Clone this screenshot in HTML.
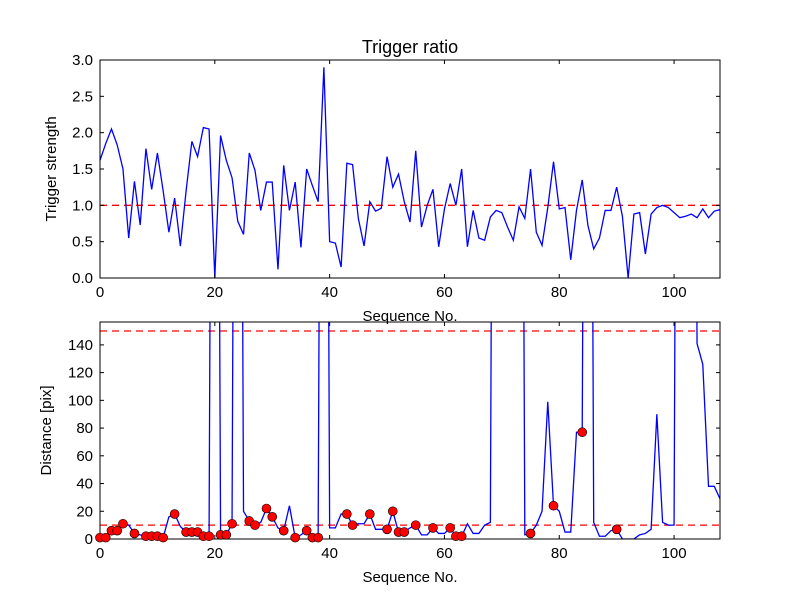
<!DOCTYPE html>
<html><head><meta charset="utf-8"><style>
body{margin:0;background:#fff;}
svg text{font-family:"Liberation Sans","DejaVu Sans",sans-serif;fill:#000;}
</style></head><body>
<svg id="chart" width="800" height="600" viewBox="0 0 800 600" xmlns="http://www.w3.org/2000/svg">
<rect width="800" height="600" fill="#fff"/>
<defs>
<clipPath id="c1"><rect x="100" y="60" width="620" height="218"/></clipPath>
<clipPath id="c2"><rect x="100" y="322" width="620" height="217"/></clipPath>
</defs>
<g id="g1"></g><g id="g2"></g>
</svg>
<script>
const strength=[1.62,1.85,2.05,1.83,1.5,0.55,1.33,0.73,1.78,1.22,1.72,1.2,0.63,1.1,0.44,1.2,1.88,1.67,2.07,2.05,0.0,1.96,1.62,1.38,0.78,0.6,1.72,1.48,0.93,1.32,1.32,0.12,1.55,0.93,1.32,0.42,1.5,1.27,1.05,2.9,0.5,0.48,0.15,1.58,1.56,0.82,0.44,1.05,0.92,0.96,1.67,1.25,1.43,1.05,0.77,1.75,0.7,1.0,1.22,0.43,0.95,1.3,1.0,1.5,0.43,0.93,0.55,0.52,0.84,0.93,0.9,0.7,0.52,0.98,0.82,1.5,0.63,0.45,0.97,1.6,0.95,0.97,0.25,0.93,1.35,0.72,0.4,0.55,0.93,0.93,1.25,0.85,0.0,0.88,0.9,0.33,0.88,0.97,1.0,0.97,0.9,0.83,0.85,0.88,0.83,0.95,0.83,0.92,0.94];
const distance=[1,1,6,6,11,10,4,3,2,2,2,1,16,18,9,5,5,5,2,2,1000,3,3,11,1000,20,13,10,12,22,16,8,6,24,1,3,6,1,1,1000,8,8,18,18,10,11,11,18,7,7,7,20,5,5,8,10,3,3,8,4,4,8,2,2,11,4,4,10,12,1000,1000,1000,1000,1000,3,4,10,20,99,24,20,5,5,77,77,1000,12,2,2,6,7,0,0,0,3,4,7,90,12,10,10,1000,1000,1000,141,126,38,38,29];
const markerIdx=[0,1,2,3,4,6,8,9,10,11,13,15,16,17,18,19,21,22,23,26,27,29,30,32,34,36,37,38,43,44,47,50,51,52,53,55,58,61,62,63,75,79,84,90];
const xTicks=[0,20,40,60,80,100];
const y1Ticks=[0.0,0.5,1.0,1.5,2.0,2.5,3.0];
const y2Ticks=[0,20,40,60,80,100,120,140];
const NS='http://www.w3.org/2000/svg';
const L=100,R=720,XMAX=108;
const sx=v=>L+(R-L)*v/XMAX;
function mk(p,t,a){const e=document.createElementNS(NS,t);for(const k in a)e.setAttribute(k,a[k]);p.appendChild(e);return e;}
function axes(g,top,bot,ymax,ticks,fmt,ylabel,data,clip,thr,name){
  const sy=v=>bot-(bot-top)*v/ymax;
  const pts=data.map((v,i)=>sx(i).toFixed(2)+','+sy(v).toFixed(2)).join(' ');
  const cg=mk(g,'g',{'clip-path':'url(#'+clip+')'});
  thr.forEach(t=>{const l=mk(cg,'line',{x1:L,x2:R,y1:sy(t),y2:sy(t),stroke:'#ff0000','stroke-width':1.3,'stroke-dasharray':'7,5'});
    
    });
  const pl=mk(cg,'polyline',{points:pts,fill:'none',stroke:'#0000ff','stroke-width':1.3});
  
  
  const fr=mk(g,'rect',{x:L,y:top,width:R-L,height:bot-top,fill:'none',stroke:'#000','stroke-width':1});
  
  
  xTicks.forEach(t=>{const x=sx(t);
    mk(g,'line',{x1:x,x2:x,y1:bot,y2:bot-4,stroke:'#000'});mk(g,'line',{x1:x,x2:x,y1:top,y2:top+4,stroke:'#000'});
    const tx=mk(g,'text',{x:x,y:bot+19,'text-anchor':'middle','font-size':15});tx.textContent=t;
    
    });
  ticks.forEach(t=>{const y=sy(t);
    mk(g,'line',{x1:L,x2:L+4,y1:y,y2:y,stroke:'#000'});mk(g,'line',{x1:R,x2:R-4,y1:y,y2:y,stroke:'#000'});
    const tx=mk(g,'text',{x:L-7,y:y+5,'text-anchor':'end','font-size':15});tx.textContent=fmt(t);
    
    });
  const xl=mk(g,'text',{x:410,y:bot+43,'text-anchor':'middle','font-size':15});xl.textContent='Sequence No.';
  
  
  const cy=(top+bot)/2;
  const yl=mk(g,'text',{x:0,y:0,'text-anchor':'middle','font-size':15,transform:'translate('+(name==='top'?56:51)+','+cy+') rotate(-90)'});yl.textContent=ylabel;
  
  
  return {sy,cg};
}
const g1=document.getElementById('g1'),g2=document.getElementById('g2');
axes(g1,60,278,3.0,y1Ticks,v=>v.toFixed(1),'Trigger strength',strength,'c1',[1.0],'top');
const t=mk(g1,'text',{x:410,y:53,'text-anchor':'middle','font-size':18});t.textContent='Trigger ratio';


const b=axes(g2,322,539,156.5,y2Ticks,v=>String(v),'Distance [pix]',distance,'c2',[10,150],'bottom');
markerIdx.forEach(i=>{const c=mk(g2,'circle',{cx:sx(i),cy:b.sy(distance[i]),r:4.5,fill:'#f00',stroke:'#000','stroke-width':0.6});
  
  });
</script>
</body></html>
